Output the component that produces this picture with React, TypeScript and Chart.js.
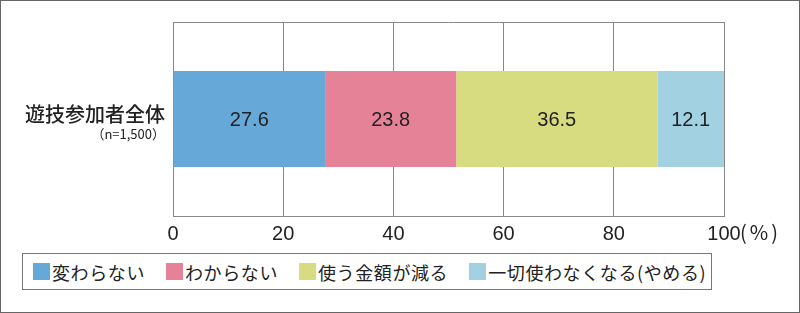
import React, { useEffect, useRef } from "react";
import { Chart, registerables } from "chart.js";

Chart.register(...registerables);

const categories = ["遊技参加者全体"];
const sampleLabels = ["（n=1,500）"];
const seriesNames = ["変わらない", "わからない", "使う金額が減る", "一切使わなくなる(やめる)"];
const seriesValues = [[27.6], [23.8], [36.5], [12.1]];
const seriesColors = ["#66A8D8", "#E58298", "#D8DC80", "#A2D2E2"];
const xTickMin = 0;
const xTickMax = 100;
const xTickStep = 20;
const xUnitLabel = "(%)";

const LATIN = "'Liberation Sans', Arial, 'Noto Sans CJK JP', sans-serif";
const CJK = "'Noto Sans CJK JP', sans-serif";

const decorPlugin = {
  id: "decor",
  beforeDraw(chart: any) {
    const { ctx, width, height } = chart;
    ctx.save();
    ctx.fillStyle = "#fff";
    ctx.fillRect(0, 0, width, height);
    ctx.strokeStyle = "#666";
    ctx.lineWidth = 1;
    ctx.strokeRect(0.5, 0.5, width - 1, height - 1);
    ctx.restore();
  },
  afterDatasetsDraw(chart: any) {
    const { ctx, chartArea } = chart;
    ctx.save();
    ctx.strokeStyle = "#888";
    ctx.lineWidth = 1;
    ctx.beginPath();
    ctx.moveTo(chartArea.left, Math.round(chartArea.top) + 0.5);
    ctx.lineTo(chartArea.right, Math.round(chartArea.top) + 0.5);
    ctx.stroke();
    ctx.fillStyle = "#222";
    ctx.font = `20px ${LATIN}`;
    ctx.textAlign = "center";
    ctx.textBaseline = "middle";
    chart.data.datasets.forEach((ds: any, i: number) => {
      const meta = chart.getDatasetMeta(i);
      meta.data.forEach((el: any, j: number) => {
        const v = ds.data[j];
        ctx.fillText(v.toFixed(1), (el.x + el.base) / 2, el.y + 1);
      });
    });
    const yScale = chart.scales.y;
    categories.forEach((c, j) => {
      const y = yScale.getPixelForValue(j);
      ctx.textAlign = "right";
      ctx.font = `500 20px ${CJK}`;
      ctx.fillStyle = "#222";
      ctx.fillText(c, chartArea.left - 8, y - 5);
      ctx.font = `13px ${CJK}`;
      ctx.fillText(sampleLabels[j], chartArea.left - 8, y + 15);
    });
    const xScale = chart.scales.x;
    ctx.textAlign = "left";
    ctx.font = `20px ${CJK}`;
    (ctx as any).letterSpacing = "3px";
    ctx.fillText(xUnitLabel, xScale.getPixelForValue(xTickMax) + 16, xScale.top + 16);
    ctx.restore();
  },
};

function Legend() {
  return (
    <div
      style={{
        position: "absolute",
        left: 22,
        top: 253,
        width: 690,
        height: 37,
        boxSizing: "border-box",
        border: "1px solid #777",
        display: "flex",
        alignItems: "center",
        paddingLeft: 10,
        gap: 21,
        fontFamily: CJK,
        fontSize: 18,
        letterSpacing: "0.6px",
        color: "#222",
        background: "#fff",
      }}
    >
      {seriesNames.map((n, i) => (
        <div key={n} style={{ display: "flex", alignItems: "center", whiteSpace: "nowrap" }}>
          <span
            style={{
              display: "inline-block",
              width: 17,
              height: 17,
              background: seriesColors[i],
              marginRight: 2,
            }}
          />
          <span style={{ lineHeight: "20px" }}>{n}</span>
        </div>
      ))}
    </div>
  );
}

export default function App() {
  const ref = useRef<HTMLCanvasElement | null>(null);
  useEffect(() => {
    if (!ref.current) return;
    const chart = new Chart(ref.current, {
      type: "bar",
      data: {
        labels: categories,
        datasets: seriesNames.map((n, i) => ({
          label: n,
          data: seriesValues[i],
          backgroundColor: seriesColors[i],
          borderWidth: 0,
          barPercentage: 0.495,
          categoryPercentage: 1,
        })),
      },
      options: {
        indexAxis: "y",
        responsive: false,
        animation: false,
        devicePixelRatio: 1,
        layout: { padding: { left: 173, right: 76, top: 22, bottom: 67 } },
        plugins: { legend: { display: false }, tooltip: { enabled: false } },
        scales: {
          x: {
            stacked: true,
            min: xTickMin,
            max: xTickMax,
            ticks: {
              stepSize: xTickStep,
              padding: 6,
              color: "#222",
              font: { size: 20, family: LATIN },
              maxRotation: 0,
            },
            grid: { color: "#888", lineWidth: 1, drawTicks: false },
            border: { color: "#888", width: 1 },
            afterFit: (s: any) => {
              s.height = 30;
              s.paddingLeft = 0;
              s.paddingRight = 0;
            },
          },
          y: { stacked: true, display: false },
        },
      },
      plugins: [decorPlugin],
    } as any);
    return () => chart.destroy();
  }, []);
  return (
    <div style={{ position: "absolute", left: 0, top: 0, width: 800, height: 313, background: "#fff" }}>
      <canvas ref={ref} width={800} height={313} style={{ width: 800, height: 313, display: "block" }} />
      <Legend />
    </div>
  );
}
